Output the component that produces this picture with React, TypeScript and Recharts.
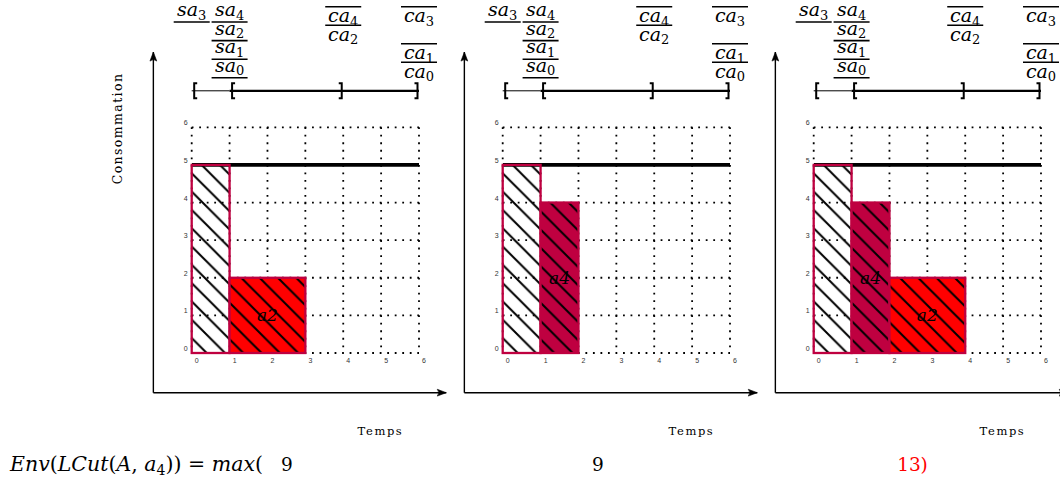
import React from 'react';
import {
  ComposedChart,
  XAxis,
  YAxis,
  CartesianGrid,
  Line,
  ReferenceArea,
  ReferenceLine,
  ReferenceDot,
} from 'recharts';

// ---------------- data ----------------
const TIME_TICKS = [0, 1, 2, 3, 4, 5, 6];
const LOAD_TICKS = [0, 1, 2, 3, 4, 5, 6];
const CAPACITY_SERIES = [
  { t: 0, cap: 5 },
  { t: 6, cap: 5 },
];

const PANEL_1_ACTIVITIES = [
  { id: 'a0', start: 0, end: 1, load: 5 },
  { id: 'a2', start: 1, end: 3, load: 2 },
];
const PANEL_2_ACTIVITIES = [
  { id: 'a0', start: 0, end: 1, load: 5 },
  { id: 'a4', start: 1, end: 2, load: 4 },
];
const PANEL_3_ACTIVITIES = [
  { id: 'a0', start: 0, end: 1, load: 5 },
  { id: 'a4', start: 1, end: 2, load: 4 },
  { id: 'a2', start: 2, end: 4, load: 2 },
];
const PANELS = [PANEL_1_ACTIVITIES, PANEL_2_ACTIVITIES, PANEL_3_ACTIVITIES];

const ENVELOPE_VALUES = [9, 9, 13];

const START_EVENTS = [
  { sub: '3', time: 0 },
  { sub: '4', time: 1 },
  { sub: '2', time: 1 },
  { sub: '1', time: 1 },
  { sub: '0', time: 1 },
];
const END_EVENTS = [
  { sub: '4', time: 4 },
  { sub: '2', time: 4 },
  { sub: '3', time: 6 },
  { sub: '1', time: 6 },
  { sub: '0', time: 6 },
];
const OPEN_BRACKETS = [0, 1];
const CLOSE_BRACKETS = [4, 6];
const THIN_SPAN = [0, 1];
const THICK_SPAN = [1, 6];

// ---------------- styles / layout ----------------
const FILLS: Record<string, string> = { a0: 'none', a2: '#ff0000', a4: '#bf0040' };
const LABELLED: Record<string, boolean> = { a2: true, a4: true };
const BORDER = '#bf0040';
const START_ROWS: Record<string, number> = { '3': 0, '4': 0, '2': 1, '1': 2, '0': 3 };
const END_ROWS: Record<string, number> = { '4': 0, '2': 1, '3': 0, '1': 2, '0': 3 };

const MATH_FONT = "'DejaVu Serif', serif";
const TEXT_FONT = "'DejaVu Serif', serif";
const TICK_FONT = "'Liberation Sans', Arial, sans-serif";

const PANEL_X0 = 100;
const PANEL_STEP = 311;
const CHART_W = 350;
const CHART_H = 484;
const PLOT_W = 227.3;
const PLOT_H = 225.7;
const AXIS_W = 30;
const AXIS_H = 30;
const MARGIN = {
  top: 127.3,
  left: 91.7 - AXIS_W,
  right: CHART_W - 91.7 - PLOT_W,
  bottom: CHART_H - 127.3 - PLOT_H - AXIS_H,
};
const BRACKET_LEVEL = 6.97;
const FRAME_X = -1.012;
const FRAME_Y = -1.055;
const FRAME_TOP = 8.0;
const FRAME_RIGHT = 6.72;
const HATCH = 18.3;
const HATCH_PHASE = 8.4;

const renderXTick = (p: any) => (
  <text x={p.x + 5} y={p.y + 10} fontSize={7} fontFamily={TICK_FONT} fill="#333" textAnchor="middle">
    {p.payload.value}
  </text>
);
const renderYTick = (p: any) => (
  <text x={p.x - 6} y={p.y - 2} fontSize={7} fontFamily={TICK_FONT} fill="#333" textAnchor="middle">
    {p.payload.value}
  </text>
);

function ActivityShape(props: any) {
  const { x, y, width, height, act, panel } = props;
  const pid = `hatch-${panel}-${act.id}`;
  const fill = FILLS[act.id];
  const P = HATCH;
  return (
    <g>
      <defs>
        <pattern id={pid} patternUnits="userSpaceOnUse" x={0} y={HATCH_PHASE} width={P} height={P}>
          <path
            d={`M0,0 L${P},${P} M${-P / 2},${P / 2} L${P / 2},${1.5 * P} M${P / 2},${-P / 2} L${1.5 * P},${P / 2}`}
            stroke="#000"
            strokeWidth={2}
          />
        </pattern>
      </defs>
      {fill !== 'none' && <rect x={x} y={y} width={width} height={height} fill={fill} />}
      {LABELLED[act.id] && (
        <text
          x={x + width / 2}
          y={y + height / 2 + 6}
          textAnchor="middle"
          fontFamily={MATH_FONT}
          fontSize={17}
          fontStyle="italic"
          fill="#000"
        >
          {act.id}
        </text>
      )}
      <rect x={x} y={y} width={width} height={height} fill={`url(#${pid})`} />
      <rect x={x} y={y} width={width} height={height} fill="none" stroke={BORDER} strokeWidth={2.3} />
    </g>
  );
}

function EventLabel(props: any) {
  const { cx, cy, sub, kind } = props;
  const start = kind === 'start';
  const row = start ? START_ROWS[sub] : END_ROWS[sub];
  const baseline = start ? cy - 74.8 + 18.6 * row : cy - 68.8 + 18.5 * row;
  const ly = start ? baseline + 6 : baseline - 15.3;
  return (
    <g>
      <text x={cx} y={baseline} textAnchor="middle" fontFamily={MATH_FONT} fontSize={19} fontStyle="italic" fill="#000">
        {start ? 'sa' : 'ca'}
        <tspan fontSize={13} fontStyle="normal" dy={3.5}>
          {sub}
        </tspan>
      </text>
      <line x1={cx - 18} x2={cx + 18} y1={ly} y2={ly} stroke="#000" strokeWidth={1.6} />
    </g>
  );
}

function Bracket(props: any) {
  const { cx, cy, open } = props;
  const sx = open ? cx + 2.5 : cx - 1.5;
  const s = open ? 3 : -3;
  return (
    <path
      d={`M${sx + s},${cy - 7.5} L${sx},${cy - 7.5} L${sx},${cy + 7.5} L${sx + s},${cy + 7.5}`}
      stroke="#000"
      strokeWidth={2}
      fill="none"
    />
  );
}

function Arrow(props: any) {
  const { cx, cy, dir } = props;
  const d =
    dir === 'up'
      ? `M${cx},${cy} L${cx - 3.4},${cy + 9} Q${cx},${cy + 6} ${cx + 3.4},${cy + 9} Z`
      : `M${cx},${cy} L${cx - 9},${cy - 3.4} Q${cx - 6},${cy} ${cx - 9},${cy + 3.4} Z`;
  return <path d={d} fill="#000" stroke="#000" strokeWidth={0.6} />;
}

function Panel({ index, activities }: { index: number; activities: any[] }) {
  const left = PANEL_X0 + index * PANEL_STEP;
  return (
    <div style={{ position: 'absolute', left, top: 0 }}>
      <ComposedChart width={CHART_W} height={CHART_H} data={CAPACITY_SERIES} margin={MARGIN}>
        <XAxis
          type="number"
          dataKey="t"
          domain={[0, 6]}
          ticks={TIME_TICKS}
          interval={0}
          height={AXIS_H}
          axisLine={false}
          tickLine={false}
          tickSize={0}
          tickMargin={0}
          tick={renderXTick}
          allowDataOverflow
        />
        <YAxis
          type="number"
          domain={[0, 6]}
          ticks={LOAD_TICKS}
          interval={0}
          width={AXIS_W}
          axisLine={false}
          tickLine={false}
          tickSize={0}
          tickMargin={0}
          tick={renderYTick}
          allowDataOverflow
        />
        <CartesianGrid stroke="#000" strokeWidth={1.8} strokeDasharray="1.8 5.72" />
        <Line
          dataKey="cap"
          stroke="#000"
          strokeWidth={3.6}
          dot={false}
          activeDot={false}
          isAnimationActive={false}
        />
        {activities.map((a) => (
          <ReferenceArea
            key={a.id}
            x1={a.start}
            x2={a.end}
            y1={0}
            y2={a.load}
            ifOverflow="visible"
            zIndex={450}
            shape={(p: any) => <ActivityShape {...p} act={a} panel={index} />}
          />
        ))}
        {/* outer frame arrows */}
        <ReferenceLine
          segment={[
            { x: FRAME_X, y: FRAME_Y },
            { x: FRAME_X, y: FRAME_TOP },
          ]}
          stroke="#000"
          strokeWidth={1.4}
          ifOverflow="visible"
        />
        <ReferenceLine
          segment={[
            { x: FRAME_X, y: FRAME_Y },
            { x: FRAME_RIGHT, y: FRAME_Y },
          ]}
          stroke="#000"
          strokeWidth={1.4}
          ifOverflow="visible"
        />
        <ReferenceDot x={FRAME_X} y={FRAME_TOP} ifOverflow="visible" shape={(p: any) => <Arrow {...p} dir="up" />} />
        <ReferenceDot x={FRAME_RIGHT} y={FRAME_Y} ifOverflow="visible" shape={(p: any) => <Arrow {...p} dir="right" />} />
        {/* interval */}
        <ReferenceLine
          segment={[
            { x: THIN_SPAN[0], y: BRACKET_LEVEL },
            { x: THIN_SPAN[1], y: BRACKET_LEVEL },
          ]}
          stroke="#000"
          strokeWidth={1}
          ifOverflow="visible"
        />
        <ReferenceLine
          segment={[
            { x: THICK_SPAN[0], y: BRACKET_LEVEL },
            { x: THICK_SPAN[1], y: BRACKET_LEVEL },
          ]}
          stroke="#000"
          strokeWidth={2.2}
          ifOverflow="visible"
        />
        {OPEN_BRACKETS.map((t) => (
          <ReferenceDot key={`o${t}`} x={t} y={BRACKET_LEVEL} ifOverflow="visible" shape={(p: any) => <Bracket {...p} open />} />
        ))}
        {CLOSE_BRACKETS.map((t) => (
          <ReferenceDot key={`c${t}`} x={t} y={BRACKET_LEVEL} ifOverflow="visible" shape={(p: any) => <Bracket {...p} open={false} />} />
        ))}
        {START_EVENTS.map((e) => (
          <ReferenceDot
            key={`s${e.sub}`}
            x={e.time}
            y={BRACKET_LEVEL}
            ifOverflow="visible"
            shape={(p: any) => <EventLabel {...p} sub={e.sub} kind="start" />}
          />
        ))}
        {END_EVENTS.map((e) => (
          <ReferenceDot
            key={`e${e.sub}`}
            x={e.time}
            y={BRACKET_LEVEL}
            ifOverflow="visible"
            shape={(p: any) => <EventLabel {...p} sub={e.sub} kind="end" />}
          />
        ))}
        {/* axis titles */}
        <ReferenceDot
          x={TIME_TICKS[TIME_TICKS.length - 1]}
          y={LOAD_TICKS[0]}
          ifOverflow="visible"
          shape={(p: any) => (
            <text
              x={p.cx - 38.5}
              y={p.cy + 82}
              textAnchor="middle"
              fontFamily={TEXT_FONT}
              fontSize={11.5}
              letterSpacing={1.6}
              fill="#000"
            >
              Temps
            </text>
          )}
        />
        {index === 0 && (
          <ReferenceDot
            x={TIME_TICKS[0]}
            y={LOAD_TICKS[LOAD_TICKS.length - 1]}
            ifOverflow="visible"
            shape={(p: any) => (
              <text
                x={p.cx - 74}
                y={p.cy + 1.2}
                transform={`rotate(-90 ${p.cx - 74} ${p.cy + 1.2})`}
                dy={4}
                textAnchor="middle"
                fontFamily={TEXT_FONT}
                fontSize={12.5}
                letterSpacing={1.4}
                fill="#000"
              >
                Consommation
              </text>
            )}
          />
        )}
      </ComposedChart>
    </div>
  );
}

export default function App() {
  const maxVal = Math.max(...ENVELOPE_VALUES);
  return (
    <div
      style={{
        position: 'absolute',
        left: 0,
        top: 0,
        width: 1060,
        height: 484,
        overflow: 'hidden',
        background: '#fff',
      }}
    >
      {PANELS.map((acts, i) => (
        <Panel key={i} index={i} activities={acts} />
      ))}
      <svg width={1060} height={484} style={{ position: 'absolute', left: 0, top: 0, pointerEvents: 'none' }}>
        <text x={10} y={471} fontFamily={MATH_FONT} fontSize={20.5} fill="#000" style={{ whiteSpace: 'pre' }}>
          <tspan fontStyle="italic">Env</tspan>
          <tspan>(</tspan>
          <tspan fontStyle="italic">LCut</tspan>
          <tspan>(</tspan>
          <tspan fontStyle="italic">A</tspan>
          <tspan>, </tspan>
          <tspan fontStyle="italic">a</tspan>
          <tspan fontSize={14} dy={4}>4</tspan>
          <tspan dy={-4}>{')) = '}</tspan>
          <tspan fontStyle="italic">max</tspan>
          <tspan>(</tspan>
        </text>
        {ENVELOPE_VALUES.map((v, i) => {
          const cx = PANEL_X0 + i * PANEL_STEP + 187;
          const last = i === ENVELOPE_VALUES.length - 1;
          const color = last && v === maxVal ? '#ff0000' : '#000';
          return (
            <g key={i}>
              <text x={cx} y={471} textAnchor="middle" fontFamily={MATH_FONT} fontSize={18.5} fill={color}>
                {v}
              </text>
              {last && (
                <text x={cx + 5.8 * String(v).length} y={471} fontFamily={MATH_FONT} fontSize={18.5} fill={color}>
                  )
                </text>
              )}
            </g>
          );
        })}
      </svg>
    </div>
  );
}
